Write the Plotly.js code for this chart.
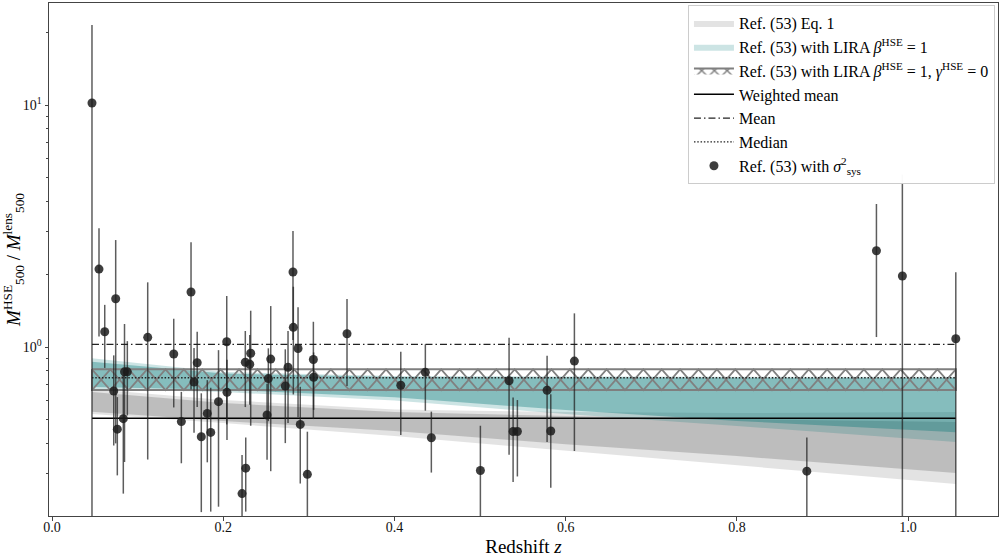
<!DOCTYPE html>
<html><head><meta charset="utf-8">
<script src="https://cdn.plot.ly/plotly-3.0.1.min.js"></script>
<style>html,body{margin:0;padding:0;background:#fff;} #chart{width:1005px;height:557px;}</style>
</head><body><div id="chart"></div>
<script>
// ---- data ----
const redshift = [0.0467, 0.0549, 0.0616, 0.0744, 0.0721, 0.0763, 0.0833, 0.0847, 0.0880, 0.1118,
  0.1422, 0.1511, 0.1624, 0.1696, 0.1659, 0.1744, 0.1814, 0.1854, 0.1945, 0.2041,
  0.2044, 0.2220, 0.2263, 0.2258, 0.2321, 0.2310, 0.2555, 0.2527, 0.2512, 0.2725,
  0.2757, 0.2815, 0.2819, 0.2874, 0.2900, 0.2983, 0.3053, 0.3056, 0.3446, 0.4074,
  0.4361, 0.4431, 0.5004, 0.5339, 0.5386, 0.5436, 0.5783, 0.5826, 0.6102, 0.8817,
  0.9630, 0.9933, 1.0557];
const massRatio = [10.19, 2.100, 1.157, 1.584, 0.658, 0.458, 0.506, 0.790, 0.790, 1.097,
  0.936, 0.492, 1.688, 0.861, 0.717, 0.426, 0.532, 0.444, 0.595, 1.052,
  0.650, 0.248, 0.316, 0.865, 0.943, 0.849, 0.892, 0.741, 0.524, 0.690,
  0.825, 2.042, 1.206, 0.986, 0.479, 0.298, 0.888, 0.750, 1.135, 0.695,
  0.786, 0.422, 0.309, 0.726, 0.448, 0.448, 0.663, 0.450, 0.875, 0.307,
  2.50, 1.965, 1.082];
const massRatioErr = [11.22, 0.995, 0.337, 1.184, 0.266, 0.163, 0.258, 0.455, 0.268, 0.754,
  0.373, 0.161, 1.02, 0.296, 0.274, 0.218, 0.198, 0.235, 0.376, 0.573,
  0.237, 0.110, 0.107, 0.300, 0.470, 0.272, 0.585, 0.247, 0.182, 0.289,
  0.340, 0.973, 0.569, 0.473, 0.206, 0.149, 0.384, 0.200, 0.444, 0.262,
  0.240, 0.119, 0.164, 0.367, 0.171, 0.156, 0.258, 0.188, 0.503, 0.116,
  1.40, 3.20, 0.954];

const bandZ       = [0.0467, 0.2, 0.4, 0.6, 0.8, 1.0557];
const eq1OuterHi  = [0.671, 0.604, 0.552, 0.539, 0.534, 0.539];
const eq1OuterLo  = [0.529, 0.485, 0.429, 0.375, 0.325, 0.272];
const eq1InnerHi  = [0.652, 0.587, 0.539, 0.519, 0.504, 0.490];
const eq1InnerLo  = [0.541, 0.495, 0.450, 0.397, 0.3545, 0.3015];
const liraOuterHi = [0.898, 0.788, 0.759, 0.755, 0.754, 0.754];
const liraOuterLo = [0.671, 0.652, 0.601, 0.529, 0.472, 0.405];
const liraInnerHi = [0.870, 0.777, 0.752, 0.748, 0.746, 0.745];
const liraInnerLo = [0.684, 0.667, 0.621, 0.549, 0.495, 0.445];

const zSpan = [0.0467, 1.0557];
const gammaZeroHi = 0.809;
const gammaZeroLo = 0.664;
const weightedMean = 0.5075;
const meanValue = 1.026;
const medianValue = 0.7467;

const xTickVals = [0, 0.2, 0.4, 0.6, 0.8, 1.0];
const xTickText = ['0.0', '0.2', '0.4', '0.6', '0.8', '1.0'];
const yTickVals = [1, 10];
const yTickText = ['10<sup>0</sup>', '10<sup>1</sup>'];
const yMinorVals = [0.2, 0.3, 0.4, 0.5, 0.6, 0.7, 0.8, 0.9, 2, 3, 4, 5, 6, 7, 8, 9, 20];

const names = {
  eq1: 'Ref. (53) Eq. 1',
  lira: 'Ref. (53) with LIRA <i>β</i><sup>HSE</sup> = 1',
  gamma: 'Ref. (53) with LIRA <i>β</i><sup>HSE</sup> = 1, <i>γ</i><sup>HSE</sup> = 0',
  wmean: 'Weighted mean',
  mean: 'Mean',
  median: 'Median',
  pts: 'Ref. (53) with <i>σ</i><sup>2</sup><sub>sys</sub>'
};

// ---- build traces ----
function band(zs, lo, hi, color, name, show) {
  return {
    type: 'scatter', mode: 'lines',
    x: zs.concat(zs.slice().reverse()),
    y: hi.concat(lo.slice().reverse()),
    fill: 'toself', fillcolor: color,
    line: {width: 0, color: 'rgba(0,0,0,0)'},
    name: name, showlegend: show, hoverinfo: 'skip'
  };
}
function hline(val, name, dash, color, width) {
  return {
    type: 'scatter', mode: 'lines', x: zSpan, y: [val, val],
    line: {color: color, width: width, dash: dash}, name: name, hoverinfo: 'skip'
  };
}
// cross-hatch ("x") of the gamma=0 band, built from the band limits
const HATCH_CELLS = 47;
function zigzag(startHigh) {
  const xs = [], ys = [];
  const step = (zSpan[1] - zSpan[0]) / HATCH_CELLS;
  for (let k = 0; k <= HATCH_CELLS; k++) {
    xs.push(zSpan[0] + k * step);
    const high = (k % 2 === 0) === startHigh;
    ys.push(high ? gammaZeroHi : gammaZeroLo);
  }
  return {type: 'scatter', mode: 'lines', x: xs, y: ys,
          line: {color: '#808080', width: 1.7}, showlegend: false, hoverinfo: 'skip'};
}

const traces = [
  band(bandZ, eq1OuterLo, eq1OuterHi, 'rgba(128,128,128,0.22)', names.eq1, true),
  band(bandZ, eq1InnerLo, eq1InnerHi, 'rgba(128,128,128,0.38)', 'eq1 inner', false),
  band(bandZ, liraOuterLo, liraOuterHi, 'rgba(0,118,118,0.20)', names.lira, true),
  band(bandZ, liraInnerLo, liraInnerHi, 'rgba(0,118,118,0.35)', 'lira inner', false),
  zigzag(true),
  zigzag(false),
  {
    type: 'scatter', mode: 'lines',
    x: [zSpan[0], zSpan[1], zSpan[1], zSpan[0], zSpan[0]],
    y: [gammaZeroHi, gammaZeroHi, gammaZeroLo, gammaZeroLo, gammaZeroHi],
    line: {color: '#7f7f7f', width: 2},
    showlegend: false, hoverinfo: 'skip'
  },
  // legend proxy for the hatched band
  {
    type: 'scatter', mode: 'lines', x: [null], y: [null],
    fill: 'toself', fillcolor: 'rgba(0,0,0,0)',
    fillpattern: {shape: 'x', fgcolor: '#808080', bgcolor: 'rgba(255,255,255,0)', size: 9, solidity: 0.3},
    line: {color: '#7f7f7f', width: 2},
    name: names.gamma, hoverinfo: 'skip'
  },
  hline(weightedMean, names.wmean, 'solid', '#000', 1.5),
  hline(meanValue, names.mean, '7px,3px,1.5px,3px', '#222', 1.3),
  hline(medianValue, names.median, '1.5px,1.8px', '#222', 1.3),
  {
    type: 'scatter', mode: 'markers', x: redshift, y: massRatio,
    marker: {color: 'rgba(28,28,28,0.85)', size: 9},
    error_y: {type: 'data', symmetric: true, array: massRatioErr, color: 'rgba(30,30,30,0.72)', thickness: 1.5, width: 0},
    name: names.pts, hoverinfo: 'skip'
  }
];

const axisCommon = {
  ticks: 'outside', ticklen: 3.5, tickwidth: 1, tickcolor: '#444',
  showline: true, linecolor: '#444', linewidth: 1, mirror: true,
  showgrid: false, zeroline: false,
  tickfont: {size: 14, color: '#111'}
};

const layout = {
  width: 1005, height: 557,
  margin: {l: 49, r: 7, t: 3, b: 41},
  paper_bgcolor: '#ffffff', plot_bgcolor: '#ffffff',
  font: {family: 'Liberation Serif, DejaVu Serif, serif', size: 15, color: '#000'},
  xaxis: Object.assign({}, axisCommon, {
    range: [-0.0035, 1.105], tickmode: 'array', tickvals: xTickVals, ticktext: xTickText,
    ticklabelstandoff: -5,
    title: {text: 'Redshift <i>z</i>', font: {size: 19}, standoff: 5}
  }),
  yaxis: Object.assign({}, axisCommon, {
    type: 'log', range: [-0.698, 1.4215], tickmode: 'array', tickvals: yTickVals, ticktext: yTickText,
    minor: {tickmode: 'array', tickvals: yMinorVals, ticks: 'outside', ticklen: 2.5, tickcolor: '#444', showgrid: false},
    title: {text: '<i>M</i><sup>HSE</sup><sub>500</sub> / <i>M</i><sup>lens</sup><sub>500</sub>', font: {size: 19}, standoff: 4}
  }),
  legend: {
    x: 0.9968, y: 0.996, xanchor: 'right', yanchor: 'top',
    bgcolor: 'rgba(255,255,255,0.97)', bordercolor: '#cccccc', borderwidth: 1,
    font: {size: 16, color: '#000'}, itemwidth: 40
  }
};

Plotly.newPlot('chart', traces, layout, {displayModeBar: false, staticPlot: true});
</script>
</body></html>
